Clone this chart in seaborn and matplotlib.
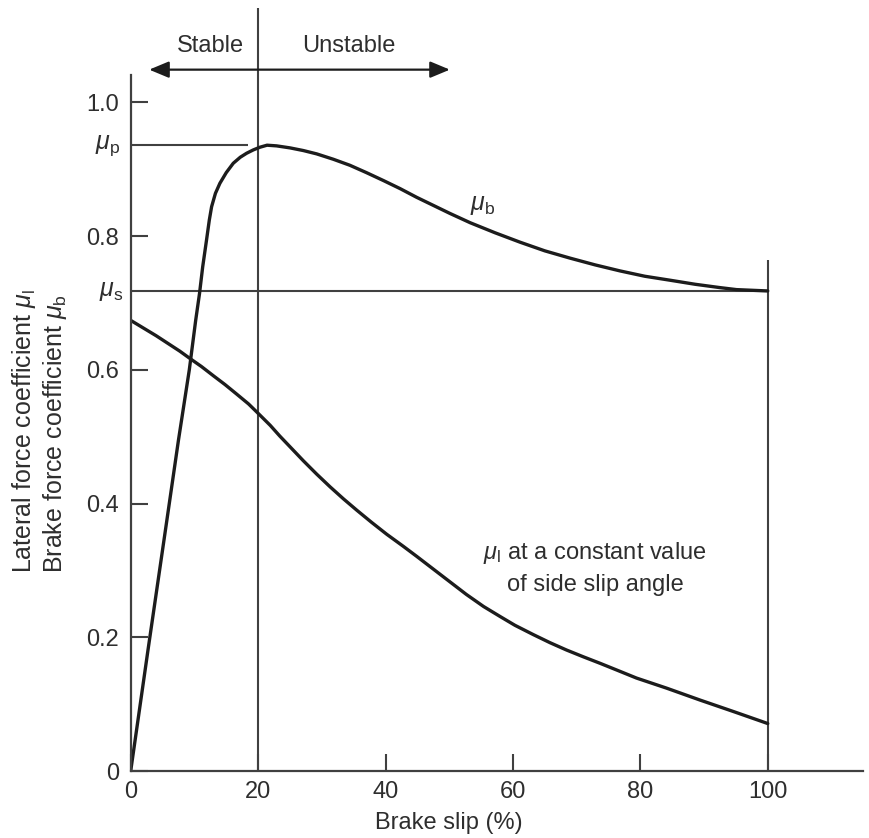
import matplotlib
matplotlib.use("Agg")
import matplotlib.pyplot as plt
import pandas as pd
import seaborn as sns

# Brake force coefficient mu_b against brake slip (%)
slip_b = [0, 2.7, 5.6, 7.5, 9.2, 10.2, 10.8, 11.3, 11.9, 12.34, 12.7, 13.3, 14.0, 15.0,
          16.1, 17.2, 18.2, 19.25, 20.3, 21.4, 22.9, 25.0, 27.1, 29.2, 31.8, 34.4,
          37.0, 39.7, 42.3, 44.9, 47.5, 50.1, 53.3, 57.2, 61.1, 65.0, 69.0, 72.9,
          76.8, 80.7, 84.7, 88.6, 92.5, 95.1, 100]
mu_b = [0, 0.18, 0.37, 0.495, 0.60, 0.674, 0.714, 0.754, 0.794, 0.824, 0.844, 0.864, 0.879,
        0.895, 0.909, 0.918, 0.924, 0.929, 0.933, 0.936, 0.935, 0.932, 0.928, 0.923,
        0.915, 0.906, 0.895, 0.883, 0.871, 0.858, 0.846, 0.834, 0.820, 0.805, 0.791,
        0.778, 0.767, 0.757, 0.748, 0.740, 0.734, 0.728, 0.723, 0.720, 0.718]

# Lateral force coefficient mu_l at a constant side slip angle
slip_l = [0, 4.0, 7.7, 9.3, 11.1, 13.0, 14.8, 16.6, 18.5, 20.0, 21.9, 23.4, 25.3, 27.1,
          29.2, 31.3, 33.4, 35.5, 37.8, 40.2, 42.8, 44.9, 47.5, 50.1, 52.7, 55.4, 58.0,
          60.3, 63.2, 65.8, 68.4, 71.0, 73.7, 76.3, 79.4, 84.1, 89.4, 94.6, 100]
mu_l = [0.674, 0.651, 0.628, 0.617, 0.605, 0.591, 0.578, 0.564, 0.549, 0.535, 0.517,
        0.501, 0.482, 0.464, 0.444, 0.425, 0.407, 0.390, 0.372, 0.354, 0.336, 0.321,
        0.302, 0.283, 0.264, 0.246, 0.231, 0.218, 0.204, 0.192, 0.181, 0.171, 0.161,
        0.151, 0.139, 0.124, 0.106, 0.089, 0.071]

# Peak and sliding (locked wheel) coefficients
mu_p = 0.936
mu_s = 0.718

x_ticks = [0, 20, 40, 60, 80, 100]
x_tick_labels = ["0", "20", "40", "60", "80", "100"]
y_ticks = [0, 0.2, 0.4, 0.6, 0.8, 1.0]
y_tick_labels = ["0", "0.2", "0.4", "0.6", "0.8", "1.0"]

sns.set_theme(style="white")
plt.rcParams["font.family"] = ["Liberation Sans", "DejaVu Sans"]
plt.rcParams["mathtext.fontset"] = "custom"
plt.rcParams["mathtext.rm"] = "Liberation Sans"
plt.rcParams["mathtext.it"] = "Liberation Sans:italic"

CURVE = "#1c1c1c"
AXIS = "#404040"
TEXT = "#2e2e2e"
FS = 17

df_b = pd.DataFrame({"slip": slip_b, "mu": mu_b})
df_l = pd.DataFrame({"slip": slip_l, "mu": mu_l})

fig = plt.figure(figsize=(8.69, 8.38), dpi=100)
ax = fig.add_axes([130.7 / 869, 1 - 771 / 838, 732.6 / 869, 696 / 838])
ax.set_xlim(0, 115)
ax.set_ylim(0, 1.041)

# Reference lines
ax.plot([0, 18.4], [mu_p, mu_p], color=AXIS, lw=1.5, solid_capstyle="butt")
ax.plot([0, 100], [mu_s, mu_s], color=AXIS, lw=1.5, solid_capstyle="butt")
ax.plot([20, 20], [0, 1.141], color=AXIS, lw=1.5, clip_on=False, solid_capstyle="butt")
ax.plot([100, 100], [0, 0.764], color=AXIS, lw=1.5, solid_capstyle="butt")

# Curves
sns.lineplot(data=df_b, x="slip", y="mu", ax=ax, color=CURVE, lw=2.4,
             estimator=None, sort=False, solid_joinstyle="round")
sns.lineplot(data=df_l, x="slip", y="mu", ax=ax, color=CURVE, lw=2.4,
             estimator=None, sort=False, solid_joinstyle="round")

# Axes styling
sns.despine(ax=ax)
for side in ("left", "bottom"):
    ax.spines[side].set_color(AXIS)
    ax.spines[side].set_linewidth(1.6)
ax.set_xticks(x_ticks)
ax.set_xticklabels(x_tick_labels)
ax.set_yticks(y_ticks)
ax.set_yticklabels(y_tick_labels)
ax.tick_params(axis="both", which="major", direction="in", length=12.5, width=1.5,
               color=AXIS, labelcolor=TEXT, labelsize=FS, bottom=True, left=True)
ax.tick_params(axis="x", pad=7.5)
ax.tick_params(axis="y", pad=8.5)
ax.set_xlabel("")
ax.set_ylabel("")

# Coefficient labels on the y axis
ax.text(-1.6, mu_p, r"$\mu_{\mathrm{p}}$", ha="right", va="center", fontsize=FS + 1,
        color=TEXT, clip_on=False)
ax.text(-1.2, mu_s, r"$\mu_{\mathrm{s}}$", ha="right", va="center", fontsize=FS + 1,
        color=TEXT, clip_on=False)

# Curve labels
ax.text(55.3, 0.846, r"$\mu_{\mathrm{b}}$", ha="center", va="center", fontsize=FS + 1,
        color=TEXT)
ax.text(72.9, 0.326, r"$\mu_{\mathrm{l}}$ at a constant value", ha="center", va="center",
        fontsize=FS, color=TEXT)
ax.text(73.0, 0.278, "of side slip angle", ha="center", va="center",
        fontsize=FS, color=TEXT)

# Stable / unstable regions
ax.annotate("", xy=(2.9, 1.049), xytext=(50.1, 1.049),
            arrowprops=dict(arrowstyle="<|-|>,head_length=0.6,head_width=0.25",
                            mutation_scale=20, lw=1.6, color=CURVE,
                            shrinkA=0, shrinkB=0),
            annotation_clip=False)
ax.text(12.5, 1.085, "Stable", ha="center", va="center", fontsize=FS, color=TEXT,
        clip_on=False)
ax.text(34.2, 1.085, "Unstable", ha="center", va="center", fontsize=FS, color=TEXT,
        clip_on=False)

# Axis titles
ax.text(50, -0.0747, "Brake slip (%)", transform=ax.get_xaxis_transform(),
        ha="center", va="center", fontsize=FS, color=TEXT)
fig.text(24 / 869, 1 - 573 / 838, r"Lateral force coefficient $\mu_{\mathrm{l}}$",
         rotation=90, ha="center", va="bottom", fontsize=FS + 1, color=TEXT)
fig.text(55 / 869, 1 - 573 / 838, r"Brake force coefficient $\mu_{\mathrm{b}}$",
         rotation=90, ha="center", va="bottom", fontsize=FS + 1, color=TEXT)

fig.savefig("out.png", dpi=100)
